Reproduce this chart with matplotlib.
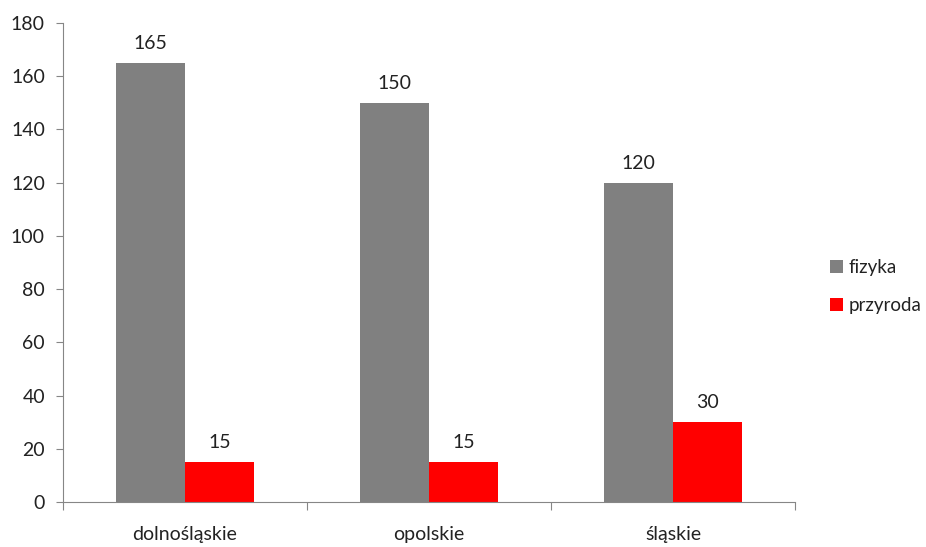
import numpy as np
import matplotlib.pyplot as plt

regions = ["dolnośląskie", "opolskie", "śląskie"]
fizyka = [165, 150, 120]
przyroda = [15, 15, 30]
series_names = ["fizyka", "przyroda"]

plt.rcParams['font.family'] = ['Lato', 'DejaVu Sans']
fs = 14

fig = plt.figure(figsize=(9.26, 5.47), dpi=100)
ax = fig.add_axes([0.068, 0.0823, 0.7905, 0.8757])

x = np.arange(len(regions))
w = 0.283
b1 = ax.bar(x - w / 2, fizyka, w, color="#808080", label=series_names[0])
b2 = ax.bar(x + w / 2, przyroda, w, color="#ff0000", label=series_names[1])

for bars, vals in [(b1, fizyka), (b2, przyroda)]:
    for rect, v in zip(bars, vals):
        ax.annotate(str(v), (rect.get_x() + rect.get_width() / 2, v),
                    xytext=(0, 8), textcoords="offset points",
                    ha="center", va="bottom", fontsize=fs, color="#222222")

ax.set_ylim(0, 180)
ax.set_yticks(np.arange(0, 181, 20))
ax.set_xlim(-0.5, len(regions) - 0.5)

# category boundaries as major ticks, names on minor ticks
ax.set_xticks(np.arange(-0.5, len(regions), 1))
ax.set_xticklabels([])
ax.set_xticks(x, minor=True)
ax.set_xticklabels(regions, minor=True)
ax.tick_params(axis="x", which="major", length=6, color="#868686", direction="out")
ax.tick_params(axis="x", which="minor", length=0, pad=17, labelsize=fs, labelcolor="#222222")
ax.tick_params(axis="y", length=5, color="#868686", labelsize=fs, labelcolor="#222222", pad=8)

for s in ["top", "right"]:
    ax.spines[s].set_visible(False)
for s in ["left", "bottom"]:
    ax.spines[s].set_color("#868686")

leg = ax.legend(loc="center left", bbox_to_anchor=(1.025, 0.45), frameon=False,
                fontsize=13.5, handlelength=0.7, handleheight=0.7,
                handletextpad=0.3, labelspacing=1.1)
for t in leg.get_texts():
    t.set_color("#222222")

fig.savefig("out.png", dpi=100)
